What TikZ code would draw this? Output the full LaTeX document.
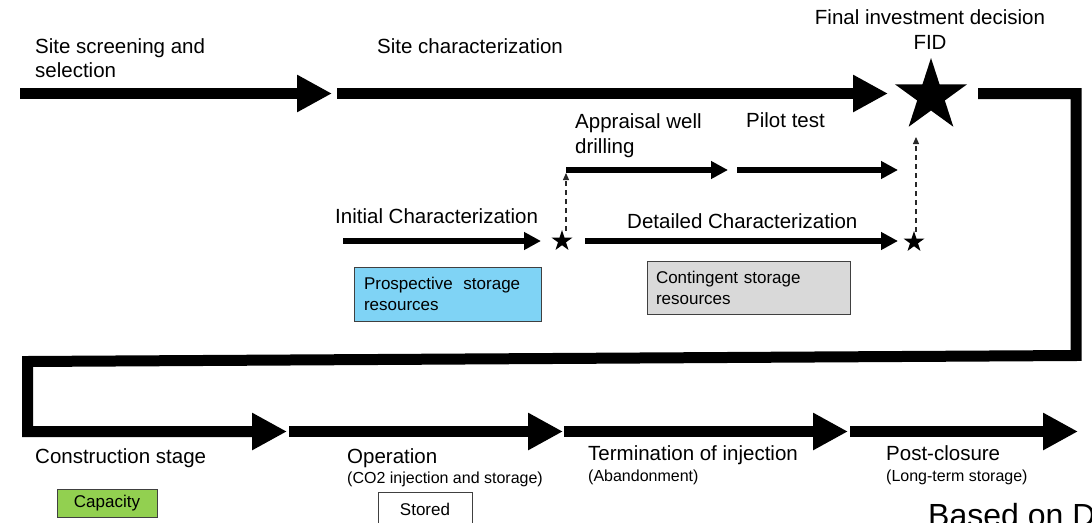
\documentclass[tikz,border=0pt]{standalone}
\usepackage{fontspec}
\setmainfont{Liberation Sans}
\usetikzlibrary{arrows.meta,shapes.geometric}

\definecolor{prosblue}{RGB}{127,211,245}
\definecolor{contgrey}{RGB}{217,217,217}
\definecolor{capgreen}{RGB}{146,208,80}
\definecolor{boxedge}{RGB}{64,64,64}
\definecolor{gateline}{RGB}{40,40,40}

\begin{document}
\begin{tikzpicture}[x=1pt,y=-1pt,
  phase/.style={line width=11pt,line join=miter,
    -{Triangle[length=35pt,width=35pt]}},
  substep/.style={line width=6pt,-{Triangle[length=17pt,width=17pt]}},
  gate/.style={draw=gateline,line width=1.1pt,dash pattern=on 5pt off 4pt,
    -{Triangle[length=7pt,width=6pt]}},
  milestone/.style={star,star points=5,star point ratio=2.618,
    fill=black,inner sep=0pt},
  lbl/.style={anchor=base west,inner sep=0pt,
    font=\fontsize{20.5}{24}\selectfont},
  sublbl/.style={anchor=base west,inner sep=0pt,
    font=\fontsize{16}{19}\selectfont},
  resbox/.style={draw=boxedge,line width=0.9pt,inner sep=0pt,
    font=\fontsize{17}{21}\selectfont}]

\useasboundingbox (0,0) rectangle (1092,522);

% --- top row: screening and characterization ---
\coordinate (s0) at (20,93.5);
\coordinate (s1) at (332,93.5);
\coordinate (c0) at (337,93.5);
\coordinate (c1) at (888,93.5);
\draw[phase] (s0) -- (s1);
\draw[phase] (c0) -- (c1);

\node[lbl] (screen) at (35,53) {Site screening and};
\node[lbl] (select) at (35,77) {selection};
\node[lbl] (charac) at (377,53) {Site characterization};

\node[milestone,minimum size=76pt] (fid) at (931,96) {};
\node[anchor=base,inner sep=0pt,font=\fontsize{20.5}{24}\selectfont]
  (fidtxt) at (930,24) {Final investment decision};
\node[anchor=base,inner sep=0pt,font=\fontsize{20.5}{24}\selectfont]
  (fidabbr) at (930,49) {FID};

% --- characterization sub-steps ---
\node[lbl] (initlbl) at (335,223) {Initial Characterization};
\coordinate (i0) at (343,241);
\coordinate (i1) at (541,241);
\draw[substep] (i0) -- (i1);

\node[milestone,minimum size=22pt] (g1) at (562,241) {};

\coordinate (a0) at (566,170);
\coordinate (a1) at (728,170);
\draw[substep] (a0) -- (a1);
\coordinate (p0) at (737,170);
\coordinate (p1) at (898,170);
\draw[substep] (p0) -- (p1);
\node[lbl] (apprlbl) at (575,128) {Appraisal well};
\node[lbl] (drilllbl) at (575,153) {drilling};
\node[lbl] (pilotlbl) at (746,127) {Pilot test};

\coordinate (d0) at (585,241);
\coordinate (d1) at (898,241);
\draw[substep] (d0) -- (d1);
\node[lbl] (detlbl) at (627,228) {Detailed Characterization};

\node[milestone,minimum size=22pt] (g2) at (914,242) {};

\coordinate (g1s) at (566,231);
\coordinate (g1top) at (566,173);
\draw[gate] (g1s) -- (g1top);
\coordinate (g2s) at (916,232);
\coordinate (g2top) at (916,137);
\draw[gate] (g2s) -- (g2top);

% --- resource classes ---
\node[resbox,fill=prosblue,minimum width=187pt,minimum height=54pt,
  text width=167pt,align=left] (pros) at (447.5,294)
  {Prospective\hspace{5pt} storage\\resources};
\node[resbox,fill=contgrey,minimum width=203pt,minimum height=53pt,
  text width=185pt,align=left] (cont) at (748.5,287.5)
  {Contingent storage\\resources};

% --- return path to the lower row ---
\coordinate (r0) at (978,93.5);
\coordinate (r1) at (1076,355.5);
\coordinate (r2) at (27.5,361.5);
\coordinate (b1) at (287,431.5);
\draw[phase] (r0) -| (r1) -- (r2) |- (b1);

% --- lower row: construction to post-closure ---
\coordinate (b1s) at (289,431.5);
\coordinate (b2) at (563,431.5);
\coordinate (b2s) at (564,431.5);
\coordinate (b3) at (848,431.5);
\coordinate (b3s) at (850,431.5);
\coordinate (b4) at (1078,431.5);
\draw[phase] (b1s) -- (b2);
\draw[phase] (b2s) -- (b3);
\draw[phase] (b3s) -- (b4);

\node[lbl] (constr) at (35,463) {Construction stage};
\node[lbl] (oper) at (347,463) {Operation};
\node[sublbl] (opersub) at (347,483) {(CO2 injection and storage)};
\node[lbl] (term) at (588,460) {Termination of injection};
\node[sublbl] (termsub) at (588,481) {(Abandonment)};
\node[lbl] (post) at (886,460) {Post-closure};
\node[sublbl] (postsub) at (886,481) {(Long-term storage)};

\node[resbox,fill=capgreen,minimum width=100pt,minimum height=28pt]
  (cap) at (107,503) {Capacity};
\node[resbox,fill=white,minimum width=94pt,minimum height=34pt]
  (stored) at (425,509) {Stored};

% source note running off the lower right corner
\node[anchor=base west,inner sep=0pt,font=\fontsize{32}{38}\selectfont]
  (src) at (928,526) {Based on D};

\end{tikzpicture}
\end{document}
